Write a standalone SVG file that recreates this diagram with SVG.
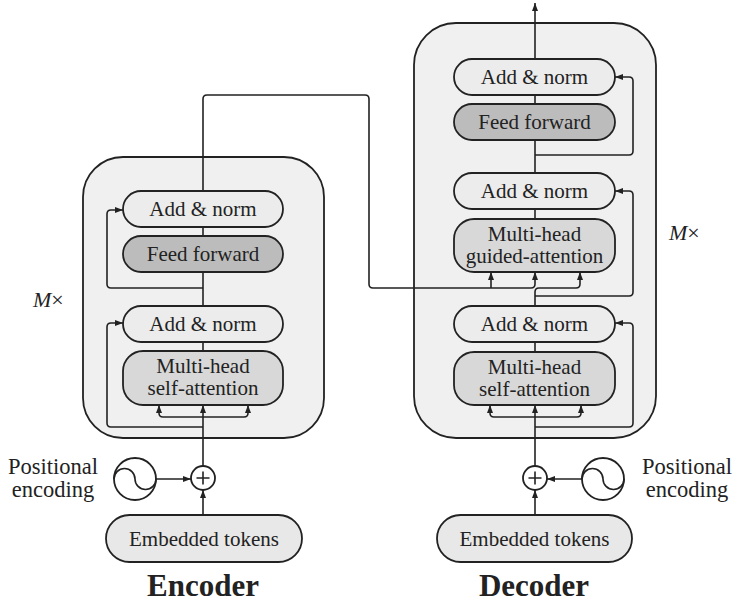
<svg xmlns="http://www.w3.org/2000/svg" width="732" height="604" viewBox="0 0 732 604">
<style>
text{font-family:'Liberation Serif','DejaVu Serif',serif;fill:#222;}
.t{font-size:21px;text-anchor:middle;}
.pe{font-size:22.5px;text-anchor:middle;}
.big{font-size:31px;font-weight:bold;text-anchor:middle;}
.mx{font-size:22px;}
.outer{fill:#f0f0f0;stroke:#222;stroke-width:1.8;}
.an{fill:#ececec;stroke:#222;stroke-width:1.8;}
.ff{fill:#bcbcbc;stroke:#222;stroke-width:1.8;}
.mh{fill:#d8d8d8;stroke:#222;stroke-width:1.8;}
.emb{fill:#e8e8e8;stroke:#222;stroke-width:1.8;}
.circ{fill:#fff;stroke:#222;stroke-width:1.8;}
.ln{fill:none;stroke:#222;stroke-width:1.6;}
.c path{fill:none;stroke:#222;stroke-width:1.6;}
.a{marker-end:url(#ah);}
</style>
<defs>
<marker id="ah" viewBox="0 0 8 6" refX="8" refY="3" markerWidth="8" markerHeight="6" markerUnits="userSpaceOnUse" orient="auto">
<path d="M0,0 L8,3 L0,6 z" fill="#222"/>
</marker>
</defs>

<g id="encoder-block"><rect class="outer" x="83" y="157" width="241" height="281" rx="40"/></g>
<g id="decoder-block"><rect class="outer" x="414" y="23" width="242" height="415" rx="42"/></g>

<g id="connectors" class="c">
<path class="a" d="M203,515 V490"/>
<path class="a" d="M156,479 H191"/>
<path class="a" d="M203,466 V405"/>
<path class="a" d="M203,417 H163 Q159,417 159,413 V405"/>
<path class="a" d="M203,417 H244 Q248,417 248,413 V405"/>
<path class="a" d="M203,427 H111 Q107,427 107,423 V327 Q107,323 111,323 H123"/>
<path d="M203,351 V342"/>
<path d="M203,306 V272"/>
<path class="a" d="M203,288 H111 Q107,288 107,284 V214 Q107,210 111,210 H123"/>
<path d="M203,236 V227"/>
<path class="a" d="M203,191 V99 Q203,95 207,95 H365 Q369,95 369,99 V284 Q369,288 373,288 H531 Q535,288 535,284 V272"/>
<path class="a" d="M491,288 V272"/>
<path class="a" d="M535,515 V490"/>
<path class="a" d="M582,479 H547"/>
<path class="a" d="M535,466 V405"/>
<path class="a" d="M535,417 H494 Q490,417 490,413 V405"/>
<path class="a" d="M535,417 H577 Q581,417 581,413 V405"/>
<path class="a" d="M535,427 H629 Q633,427 633,423 V327 Q633,323 629,323 H615"/>
<path d="M535,352 V342"/>
<path class="a" d="M535,306 V292 Q535,288 539,288 H576 Q580,288 580,284 V272"/>
<path class="a" d="M535,296 H629 Q633,296 633,292 V195 Q633,191 629,191 H615"/>
<path d="M535,219 V209"/>
<path d="M535,173 V140"/>
<path class="a" d="M535,155 H629 Q633,155 633,151 V81 Q633,77 629,77 H615"/>
<path d="M535,104 V95"/>
<path class="a" d="M535,59 V3"/>
</g>

<g id="enc-addnorm2"><rect class="an" x="123" y="191" width="160" height="36" rx="18"/><text class="t" x="203" y="216">Add &amp; norm</text></g>
<g id="enc-ff"><rect class="ff" x="123" y="236" width="160" height="36" rx="18"/><text class="t" x="203" y="261">Feed forward</text></g>
<g id="enc-addnorm1"><rect class="an" x="123" y="306" width="160" height="36" rx="18"/><text class="t" x="203" y="331">Add &amp; norm</text></g>
<g id="enc-mhsa"><rect class="mh" x="123" y="351" width="160" height="54" rx="20"/><text class="t" x="203" y="373">Multi-head</text><text class="t" x="203" y="395">self-attention</text></g>
<g id="enc-plus"><circle class="circ" cx="203" cy="478" r="12"/><path class="ln" d="M196.5,478 H209.5 M203,471.5 V484.5"/></g>
<g id="enc-pe"><circle class="circ" cx="135" cy="479" r="21"/><path class="ln" d="M114,479 A10.5,10.5 0 0 1 135,479 A10.5,10.5 0 0 0 156,479"/><text class="pe" x="53" y="474">Positional</text><text class="pe" x="53" y="497">encoding</text></g>
<g id="enc-emb"><rect class="emb" x="106" y="515" width="196" height="47" rx="23.5"/><text class="t" x="204" y="546">Embedded tokens</text></g>
<g id="enc-label"><text class="big" x="203" y="596">Encoder</text><text class="mx" x="33" y="307"><tspan font-style="italic">M</tspan>×</text></g>

<g id="dec-addnorm3"><rect class="an" x="454" y="59" width="161" height="36" rx="18"/><text class="t" x="534.5" y="84">Add &amp; norm</text></g>
<g id="dec-ff"><rect class="ff" x="454" y="104" width="161" height="36" rx="18"/><text class="t" x="534.5" y="129">Feed forward</text></g>
<g id="dec-addnorm2"><rect class="an" x="454" y="173" width="161" height="36" rx="18"/><text class="t" x="534.5" y="198">Add &amp; norm</text></g>
<g id="dec-mhga"><rect class="mh" x="454" y="219" width="161" height="53" rx="20"/><text class="t" x="534.5" y="241">Multi-head</text><text class="t" x="534.5" y="263">guided-attention</text></g>
<g id="dec-addnorm1"><rect class="an" x="454" y="306" width="161" height="36" rx="18"/><text class="t" x="534.5" y="331">Add &amp; norm</text></g>
<g id="dec-mhsa"><rect class="mh" x="454" y="352" width="161" height="53" rx="20"/><text class="t" x="534.5" y="374">Multi-head</text><text class="t" x="534.5" y="396">self-attention</text></g>
<g id="dec-plus"><circle class="circ" cx="535" cy="478" r="12"/><path class="ln" d="M528.5,478 H541.5 M535,471.5 V484.5"/></g>
<g id="dec-pe"><circle class="circ" cx="603" cy="479" r="21"/><path class="ln" d="M582,479 A10.5,10.5 0 0 1 603,479 A10.5,10.5 0 0 0 624,479"/><text class="pe" x="687" y="474">Positional</text><text class="pe" x="687" y="497">encoding</text></g>
<g id="dec-emb"><rect class="emb" x="437" y="515" width="195" height="47" rx="23.5"/><text class="t" x="534.5" y="546">Embedded tokens</text></g>
<g id="dec-label"><text class="big" x="534" y="596">Decoder</text><text class="mx" x="669" y="240"><tspan font-style="italic">M</tspan>×</text></g>
</svg>
